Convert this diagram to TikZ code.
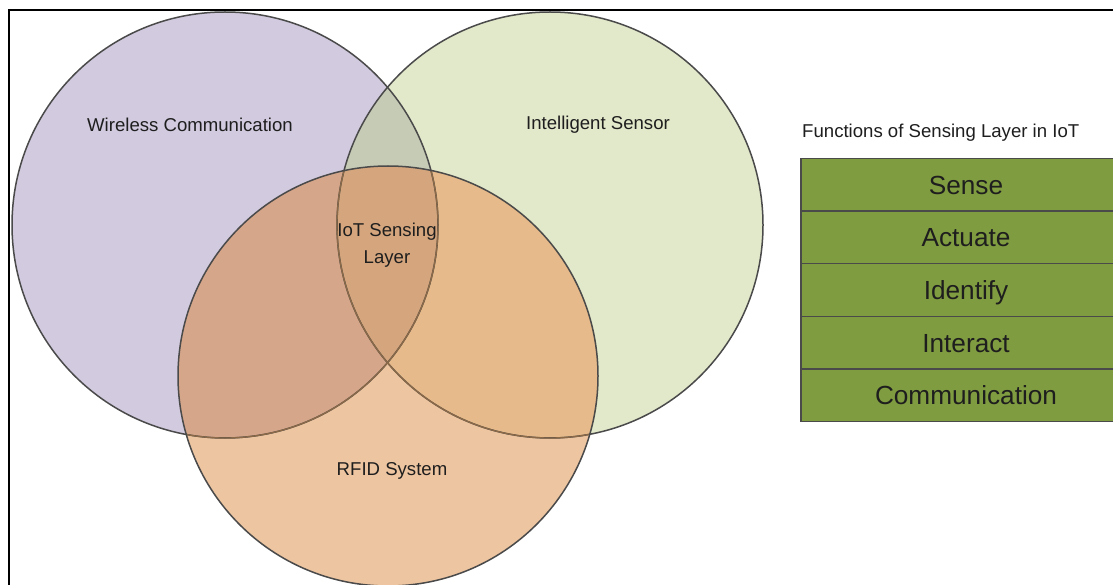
\documentclass[tikz,border=0pt]{standalone}
\usepackage{fontspec}
\setmainfont{Liberation Sans}
\begin{document}
\begin{tikzpicture}[x=1pt,y=-1pt,
  ring/.style={draw=ringgray,line width=1.5pt},
  inner ring/.style={draw=ringbrown,line width=1.3pt},
  lbl/.style={text=txt,font=\fontsize{18.6}{21}\selectfont,align=center,inner sep=0pt},
  fnrow/.style={draw=ringgray,line width=1.2pt,fill=olive,minimum width=330pt,minimum height=52.6pt,
    outer sep=0pt,anchor=north west,inner sep=0pt,text height=19pt,text depth=0pt,
    text=txt,font=\fontsize{26.2}{30}\selectfont}]
\definecolor{purp}{HTML}{D2CADF}
\definecolor{grn}{HTML}{E2E8CA}
\definecolor{orn}{HTML}{EDC5A0}
\definecolor{pg}{HTML}{C6CBB6}
\definecolor{po}{HTML}{D6A68A}
\definecolor{go}{HTML}{E6BA8A}
\definecolor{pgo}{HTML}{D5A67E}
\definecolor{olive}{HTML}{809C40}
\definecolor{ringgray}{HTML}{4A4A4A}
\definecolor{ringbrown}{HTML}{8C6A48}
\definecolor{txt}{HTML}{1E1E1E}
\useasboundingbox (0,0) rectangle (1113,585);
\clip (0,0) rectangle (1113,585);
\fill[white] (0,0) rectangle (1113,585);

% circle centres
\coordinate (wc) at (225,225);
\coordinate (is) at (550,225);
\coordinate (rf) at (388,376);
\def\rad{213}
\def\radr{210}

% single-set fills
\fill[purp] (wc) circle (\rad);
\fill[grn] (is) circle (\rad);
\fill[orn] (rf) circle (\radr);
% pairwise overlaps
\begin{scope}\clip (wc) circle (\rad); \fill[pg] (is) circle (\rad); \end{scope}
\begin{scope}\clip (wc) circle (\rad); \fill[po] (rf) circle (\radr); \end{scope}
\begin{scope}\clip (is) circle (\rad); \fill[go] (rf) circle (\radr); \end{scope}
% centre of the Venn diagram
\begin{scope}\clip (wc) circle (\rad); \clip (is) circle (\rad); \fill[pgo] (rf) circle (\radr); \end{scope}

% outlines
\draw[ring] (wc) circle (\rad);
\draw[ring] (is) circle (\rad);
\begin{scope}\clip (rf) circle (\radr);
  \draw[inner ring] (wc) circle (\rad);
  \draw[inner ring] (is) circle (\rad);
\end{scope}
\draw[ring] (rf) circle (\radr);

% set labels
\node[lbl] (wcl) at (190,125) {Wireless Communication};
\node[lbl] (isl) at (598,125) {Intelligent Sensor};
\node[lbl] (core) at (387,245) {IoT Sensing\\[6pt]Layer};
\node[lbl] (rfl) at (392,471) {RFID System};

% functions table
\node[lbl,anchor=west] (fnt) at (802,133) {Functions of Sensing Layer in IoT};
\node[fnrow] (f1) at (801,158.5) {Sense};
\node[fnrow] (f2) at (f1.south west) {Actuate};
\node[fnrow] (f3) at (f2.south west) {Identify};
\node[fnrow] (f4) at (f3.south west) {Interact};
\node[fnrow] (f5) at (f4.south west) {Communication};

% frame
\draw[line width=2pt,black] (9,590) -- (9,10) -- (1120,10);
\end{tikzpicture}
\end{document}
